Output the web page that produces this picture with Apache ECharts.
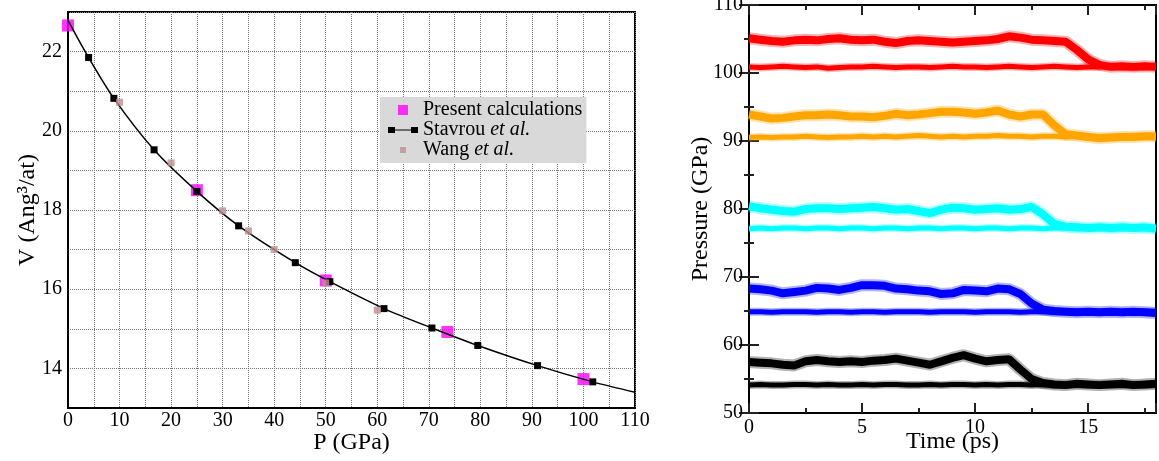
<!DOCTYPE html>
<html><head><meta charset="utf-8">
<script src="https://cdn.jsdelivr.net/npm/echarts@6/dist/echarts.min.js"></script>
<style>html,body{margin:0;padding:0;background:#fff}#c{width:1159px;height:461px}</style>
</head><body><div id="c"></div>
<script>
const FONT = '"Liberation Serif", "Times New Roman", serif';

// ---------- Left panel: V(P) ----------
const presentP = [0, 25, 50, 73.6, 100];
const presentV = [22.66, 18.5, 16.22, 14.92, 13.73];
const stavrouP = [4.0, 8.9, 16.7, 25.0, 33.1, 44.1, 50.8, 61.3, 70.6, 79.5, 91.1, 101.8];
const stavrouV = [21.85, 20.82, 19.52, 18.47, 17.60, 16.67, 16.19, 15.51, 15.02, 14.58, 14.07, 13.66];
const stavrouEndP = [0, 110];      // curve end points (no marker)
const stavrouEndV = [22.79, 13.40];
const wangP = [10, 20, 30, 35, 40, 50, 60];
const wangV = [20.72, 19.19, 17.98, 17.47, 17.00, 16.16, 15.47];

// ---------- Right panel: pressure vs time ----------
const time = [0,0.5,1,1.5,2,2.5,3,3.5,4,4.5,5,5.5,6,6.5,7,7.5,8,8.5,9,9.5,10,10.5,11,11.5,12,12.5,13,13.5,14,14.5,15,15.5,16,16.5,17,17.5,18];
const redHigh = [105.1,104.9,104.7,104.6,104.8,104.9,104.8,105.0,105.1,104.9,104.8,104.9,104.6,104.4,104.7,104.8,104.7,104.6,104.5,104.6,104.7,104.8,105.0,105.4,105.2,104.9,104.8,104.7,104.6,103.4,102.0,101.2,100.9,101.0,100.9,101.0,100.9];
const redLow = [100.9,100.8,100.9,101.0,100.9,100.8,100.9,100.7,100.8,100.9,100.9,101.0,100.9,100.8,100.9,100.9,100.8,100.9,101.0,100.9,100.9,100.8,100.9,101.0,100.9,100.8,100.9,101.0,100.9,100.8,100.9,100.9,101.0,100.9,100.8,100.9,101.0];
const orangeHigh = [93.9,93.6,93.3,93.4,93.6,93.8,93.8,93.9,93.8,93.6,93.6,93.5,93.7,94.0,93.8,93.9,94.1,94.3,94.3,94.2,94.0,94.2,94.5,93.9,93.6,93.9,93.9,92.3,91.0,90.8,90.6,90.4,90.5,90.6,90.6,90.7,90.7];
const orangeLow = [90.5,90.6,90.5,90.6,90.6,90.7,90.6,90.5,90.6,90.6,90.7,90.6,90.7,90.6,90.7,90.8,90.7,90.6,90.7,90.6,90.7,90.7,90.8,90.7,90.7,90.6,90.7,90.7,90.6,90.7,90.6,90.5,90.6,90.6,90.7,90.6,90.6];
const cyanHigh = [80.4,80.1,79.9,79.7,79.6,80.0,80.1,80.1,80.0,80.1,80.2,80.3,80.1,79.9,80.0,79.7,79.4,79.9,80.2,80.1,79.9,80.0,80.1,79.9,80.0,80.3,79.2,77.8,77.4,77.3,77.2,77.3,77.2,77.3,77.2,77.3,77.1];
const cyanLow = [77.1,77.2,77.1,77.2,77.2,77.1,77.2,77.2,77.1,77.2,77.2,77.1,77.2,77.2,77.1,77.2,77.2,77.1,77.2,77.2,77.1,77.2,77.2,77.1,77.2,77.2,77.1,77.2,77.2,77.1,77.2,77.2,77.1,77.2,77.2,77.1,77.2];
const blueHigh = [68.3,68.2,68.0,67.6,67.8,68.0,68.4,68.3,68.1,68.4,68.8,68.8,68.7,68.3,68.2,68.0,67.9,67.5,67.6,68.1,68.0,67.9,68.3,68.2,67.5,66.1,65.2,65.0,64.9,64.8,64.9,64.8,64.9,64.8,64.9,64.8,64.7];
const blueLow = [64.9,64.9,64.8,64.9,64.9,64.9,64.8,64.9,64.9,64.8,64.9,64.9,64.8,64.9,64.9,64.9,64.8,64.9,64.9,64.9,64.8,64.9,64.9,64.9,64.8,64.9,64.9,64.8,64.9,64.9,64.9,64.8,64.9,64.9,64.8,64.9,64.9];
const blackHigh = [57.5,57.4,57.3,57.1,57.0,57.6,57.8,57.6,57.5,57.6,57.5,57.7,57.8,58.0,57.7,57.4,57.1,57.6,58.1,58.5,58.0,57.6,57.8,57.9,56.4,55.0,54.4,54.2,54.1,54.3,54.2,54.1,54.2,54.3,54.1,54.2,54.3];
const blackLow = [54.1,54.2,54.1,54.1,54.2,54.2,54.1,54.2,54.1,54.1,54.2,54.1,54.2,54.2,54.1,54.1,54.2,54.1,54.2,54.2,54.1,54.2,54.1,54.2,54.2,54.1,54.2,54.1,54.2,54.2,54.1,54.2,54.2,54.1,54.2,54.1,54.2];

const zip = (xs, ys) => xs.map((x, i) => [x, ys[i]]);

const stavrouData = [{value: [stavrouEndP[0], stavrouEndV[0]], symbol: 'none'}]
  .concat(zip(stavrouP, stavrouV))
  .concat([{value: [stavrouEndP[1], stavrouEndV[1]], symbol: 'none'}]);

function band(vals, color, core, halo) {
  const d = zip(time, vals);
  const base = {type: 'line', xAxisIndex: 1, yAxisIndex: 1, symbol: 'none', silent: true, data: d};
  return [
    Object.assign({}, base, {lineStyle: {color: color, width: halo, opacity: 0.3}}),
    Object.assign({}, base, {lineStyle: {color: color, width: core}})
  ];
}

const rightSeries = [].concat(
  band(redLow, '#ff0000', 5, 8), band(redHigh, '#ff0000', 8, 12),
  band(orangeLow, '#ffa500', 5, 8), band(orangeHigh, '#ffa500', 8, 12),
  band(cyanLow, '#00ffff', 5, 8), band(cyanHigh, '#00ffff', 8, 12),
  band(blueLow, '#0000ff', 5, 8), band(blueHigh, '#0000ff', 8, 12),
  band(blackLow, '#000000', 5, 8), band(blackHigh, '#000000', 8, 12)
);

const lbl = {fontFamily: FONT, fontSize: 20, color: '#000'};
const nameStyle = {fontFamily: FONT, fontSize: 24, color: '#000'};
const tickLine = {color: '#222', width: 2};

const option = {
  animation: false,
  backgroundColor: '#fff',
  grid: [
    {left: 68, right: 524, top: 12, bottom: 53, show: true, borderColor: '#000', borderWidth: 2, backgroundColor: 'transparent', containLabel: false, outerBoundsMode: 'none'},
    {left: 749, right: 3, top: 5, bottom: 48, show: true, borderColor: '#000', borderWidth: 2, backgroundColor: 'transparent', containLabel: false, outerBoundsMode: 'none'}
  ],
  legend: {
    orient: 'vertical', left: 380, top: 97,
    backgroundColor: '#d9d9d9', padding: [3, 4, 3, 8],
    itemGap: 0, itemWidth: 30, itemHeight: 10,
    selectedMode: false,
    itemStyle: {borderWidth: 0},
    formatter: function (name) {
      if (name === 'Present calculations') return '{n|Present calculations}';
      return '{n|' + name.replace(' et al.', ' ') + '}{i|et al.}';
    },
    textStyle: {
      fontFamily: FONT, fontSize: 20, color: '#000', lineHeight: 20,
      rich: {
        n: {fontFamily: FONT, fontSize: 20, color: '#000', lineHeight: 20},
        i: {fontFamily: FONT, fontSize: 20, color: '#000', fontStyle: 'italic', lineHeight: 20}
      }
    }
  },
  xAxis: [
    {
      gridIndex: 0, type: 'value', min: 0, max: 110, interval: 5,
      axisLine: {lineStyle: {color: '#000', width: 2}},
      axisTick: {show: false},
      axisLabel: Object.assign({margin: 3, formatter: v => (v % 10 === 0 ? String(v) : '')}, lbl),
      splitLine: {show: true, lineStyle: {type: 'dotted', color: '#777', width: 1}},
      name: 'P (GPa)', nameLocation: 'middle', nameGap: 23, nameMoveOverlap: false, nameTextStyle: nameStyle
    },
    {
      gridIndex: 1, type: 'value', min: 0, max: 18, interval: 5,
      axisLine: {lineStyle: {color: '#000', width: 2}},
      axisTick: {show: true, inside: true, length: 10, lineStyle: tickLine},
      minorTick: {show: true, splitNumber: 2, length: 5, lineStyle: tickLine},
      axisLabel: Object.assign({margin: 5, showMaxLabel: false}, lbl),
      splitLine: {show: false},
      name: 'Time (ps)', nameLocation: 'middle', nameGap: 17, nameMoveOverlap: false, nameTextStyle: nameStyle
    },
    {
      gridIndex: 1, type: 'value', position: 'top', min: 0, max: 18, interval: 5,
      axisLine: {lineStyle: {color: '#000', width: 2}},
      axisTick: {show: true, inside: true, length: 10, lineStyle: tickLine},
      minorTick: {show: true, splitNumber: 2, length: 5, lineStyle: tickLine},
      axisLabel: {show: false}, splitLine: {show: false}
    }
  ],
  yAxis: [
    {
      gridIndex: 0, type: 'value', min: 13, max: 23, interval: 1,
      axisLine: {lineStyle: {color: '#000', width: 2}},
      axisTick: {show: false},
      axisLabel: Object.assign({margin: 6, formatter: v => (v % 2 === 0 && v > 13 && v < 23 ? String(v) : '')}, lbl),
      splitLine: {show: true, lineStyle: {type: 'dotted', color: '#777', width: 1}},
      name: 'V (Ang³/at)', nameLocation: 'middle', nameGap: 28, nameMoveOverlap: false, nameTextStyle: nameStyle
    },
    {
      gridIndex: 1, type: 'value', min: 50, max: 110, interval: 10,
      axisLine: {lineStyle: {color: '#000', width: 2}},
      axisTick: {show: true, inside: true, length: 10, lineStyle: tickLine},
      minorTick: {show: true, splitNumber: 2, length: 5, lineStyle: tickLine},
      axisLabel: Object.assign({margin: 6}, lbl),
      splitLine: {show: false},
      name: 'Pressure (GPa)', nameLocation: 'middle', nameGap: 36, nameMoveOverlap: false, nameTextStyle: nameStyle
    },
    {
      gridIndex: 1, type: 'value', position: 'right', min: 50, max: 110, interval: 10,
      axisLine: {lineStyle: {color: '#000', width: 2}},
      axisTick: {show: true, inside: true, length: 10, lineStyle: tickLine},
      minorTick: {show: true, splitNumber: 2, length: 5, lineStyle: tickLine},
      axisLabel: {show: false}, splitLine: {show: false}
    }
  ],
  series: [
    {
      name: 'Present calculations', type: 'scatter', xAxisIndex: 0, yAxisIndex: 0,
      symbol: 'rect', symbolSize: 12, clip: false, z: 3,
      itemStyle: {color: '#ff00ff'}, data: zip(presentP, presentV)
    },
    {
      name: 'Stavrou et al.', type: 'line', xAxisIndex: 0, yAxisIndex: 0,
      symbol: 'rect', symbolSize: 7, showAllSymbol: true, smooth: 0.3, z: 4,
      itemStyle: {color: '#000'}, lineStyle: {color: '#000', width: 1.5},
      data: stavrouData
    },
    {
      name: 'Wang et al.', type: 'scatter', xAxisIndex: 0, yAxisIndex: 0,
      symbol: 'rect', symbolSize: 7, z: 5,
      itemStyle: {color: '#bc8f8f'}, data: zip(wangP, wangV)
    }
  ].concat(rightSeries)
};

// legend icons
option.legend.data = [
  {name: 'Present calculations', icon: 'path://M0,0 M30,10 M10,0h10v10h-10z'},
  {name: 'Stavrou et al.', icon: 'path://M0,0 M30,10 M0,2h7v6h-7z M7,4.4h16v1.2h-16z M23,2h7v6h-7z'},
  {name: 'Wang et al.', icon: 'path://M0,0 M30,10 M12,2h6v6h-6z'}
];

const chart = echarts.init(document.getElementById('c'), null, {renderer: 'canvas'});
chart.setOption(option);
</script>
</body></html>
